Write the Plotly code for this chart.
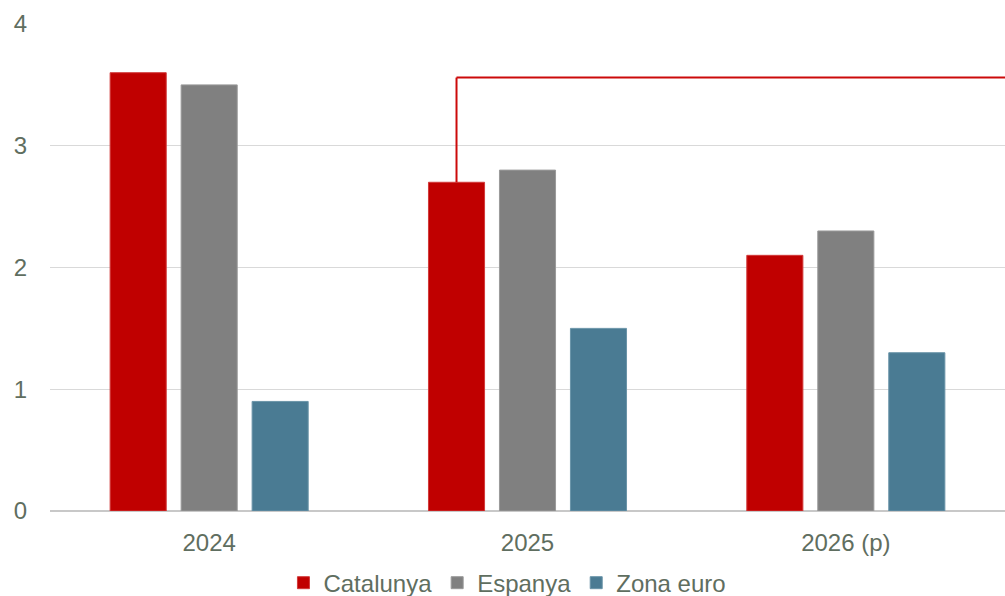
import plotly.graph_objects as go

categories = ["2024", "2025", "2026 (p)"]
catalunya = [3.6, 2.7, 2.1]
espanya = [3.5, 2.8, 2.3]
zona_euro = [0.9, 1.5, 1.3]
y_ticks = [0, 1, 2, 3, 4]
callout_level = 3.56  # horizontal level of the red callout line

series = [
    ("Catalunya", catalunya, "#c00000", "#d23a3a"),
    ("Espanya", espanya, "#808080", "#9a9a9a"),
    ("Zona euro", zona_euro, "#4a7b93", "#6a94a8"),
]

xs = list(range(len(categories)))
bargap = 0.331
bargroupgap = 0.21

fig = go.Figure()
for name, vals, color, edge in series:
    fig.add_trace(go.Bar(
        x=xs, y=vals, name=name,
        marker=dict(color=color, line=dict(color=edge, width=1)),
    ))

# Callout line from top of the Catalunya 2025 bar
slot = (1 - bargap) / len(series)
cat_offset = -(1 - bargap) / 2 + slot / 2
x_call = xs[1] + cat_offset
y_bar = catalunya[1]
red = "#cc0a0a"
fig.add_shape(type="line", xref="x", yref="y", x0=x_call, x1=x_call,
              y0=y_bar, y1=callout_level, line=dict(color=red, width=2))
fig.add_shape(type="line", xref="x", yref="y", x0=x_call, x1=2.5,
              y0=callout_level, y1=callout_level, line=dict(color=red, width=2))

text_color = "#5f6e60"
font_family = "Liberation Sans, Arial, sans-serif"
fs = 24

fig.update_layout(
    width=1005, height=596,
    margin=dict(l=50, r=0, t=24, b=85, autoexpand=False),
    paper_bgcolor="white", plot_bgcolor="white",
    barmode="group", bargap=bargap, bargroupgap=bargroupgap,
    font=dict(family=font_family, color=text_color, size=fs),
    showlegend=True,
    legend=dict(orientation="h", x=0.479, xanchor="center", y=-0.148, yanchor="middle",
                font=dict(size=fs, color=text_color), itemwidth=30,
                traceorder="normal"),
    xaxis=dict(
        tickvals=xs, ticktext=categories, range=[-0.5, 2.5], automargin=False,
        showgrid=False, zeroline=False, showline=False, ticks="",
        tickfont=dict(size=fs, color=text_color), ticklabelstandoff=15,
    ),
    yaxis=dict(
        range=[0, 4], tickvals=y_ticks, showgrid=True, gridcolor="#d9d9d9", gridwidth=1,
        automargin=False,
        zeroline=True, zerolinecolor="#c8c8c8", zerolinewidth=1.5,
        showline=False, ticks="", tickfont=dict(size=fs, color=text_color),
        ticklabelstandoff=22,
    ),
)

fig.write_html(
    "out.html",
    config={"displayModeBar": False},
    post_script="document.body.style.margin='0';document.body.style.overflow='hidden';",
)
